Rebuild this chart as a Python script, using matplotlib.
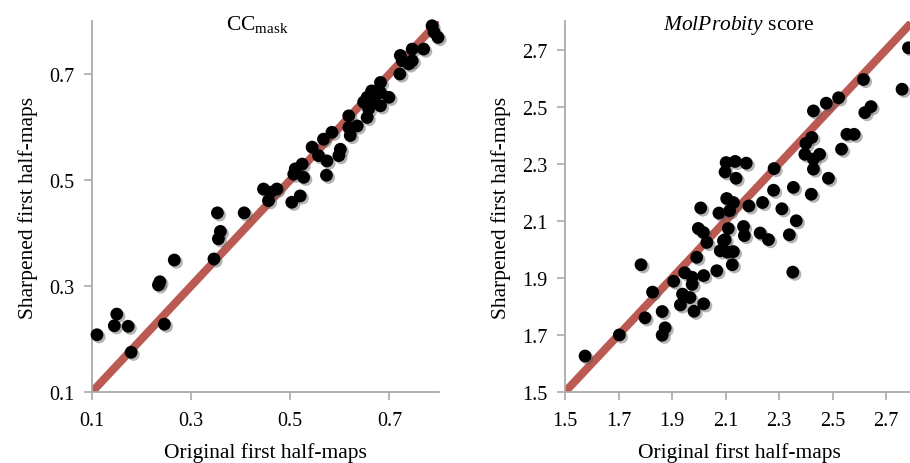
import matplotlib
matplotlib.use("Agg")
import matplotlib.pyplot as plt
import matplotlib.patheffects as pe
import numpy as np

# ---------------- data ----------------
cc_orig = [0.110, 0.150, 0.145, 0.173, 0.179, 0.246, 0.234, 0.237, 0.266, 0.346,
           0.355, 0.359, 0.353, 0.407, 0.446, 0.460, 0.473, 0.456, 0.503, 0.520,
           0.507, 0.510, 0.524, 0.527, 0.544, 0.557, 0.573, 0.574, 0.567, 0.584,
           0.598, 0.601, 0.618, 0.621, 0.635, 0.618, 0.655, 0.658, 0.682, 0.648,
           0.668, 0.699, 0.682, 0.655, 0.664, 0.682, 0.721, 0.739, 0.746, 0.726,
           0.722, 0.746, 0.769, 0.798, 0.790, 0.786]
cc_sharp = [0.208, 0.247, 0.225, 0.224, 0.175, 0.228, 0.302, 0.308, 0.349, 0.351,
            0.389, 0.403, 0.438, 0.438, 0.483, 0.477, 0.483, 0.461, 0.458, 0.470,
            0.511, 0.521, 0.530, 0.505, 0.562, 0.546, 0.509, 0.536, 0.577, 0.590,
            0.546, 0.558, 0.599, 0.584, 0.602, 0.621, 0.618, 0.634, 0.640, 0.647,
            0.650, 0.656, 0.665, 0.656, 0.668, 0.684, 0.700, 0.719, 0.725, 0.725,
            0.735, 0.747, 0.747, 0.769, 0.779, 0.791]

mp_orig = [1.575, 1.703, 1.799, 1.863, 1.874, 1.863, 1.784, 1.827, 1.906, 1.931,
           1.939, 1.967, 1.982, 2.018, 1.947, 1.975, 1.975, 2.018, 2.067, 1.992,
           2.030, 1.998, 2.017, 2.080, 2.092, 2.007, 2.075, 2.104, 2.129, 2.115,
           2.110, 2.098, 2.107, 2.129, 2.125, 2.187, 2.167, 2.170, 2.238, 2.229,
           2.260, 2.279, 2.310, 2.338, 2.364, 2.351, 2.353, 2.420, 2.281, 2.102,
           2.136, 2.177, 2.098, 2.139, 2.783, 2.759, 2.615, 2.643, 2.620, 2.522,
           2.476, 2.428, 2.553, 2.580, 2.533, 2.422, 2.400, 2.396, 2.428, 2.451,
           2.428, 2.484]
mp_sharp = [1.626, 1.700, 1.760, 1.782, 1.725, 1.699, 1.946, 1.850, 1.888, 1.805,
            1.843, 1.831, 1.783, 1.809, 1.918, 1.902, 1.877, 1.908, 1.925, 1.972,
            2.024, 2.073, 2.059, 1.995, 2.030, 2.145, 2.127, 2.178, 2.164, 2.135,
            2.073, 2.034, 1.990, 1.992, 1.946, 2.152, 2.080, 2.048, 2.164, 2.057,
            2.034, 2.207, 2.142, 2.051, 2.100, 1.920, 2.217, 2.193, 2.283, 2.304,
            2.308, 2.302, 2.271, 2.249, 2.706, 2.561, 2.595, 2.500, 2.479, 2.531,
            2.512, 2.485, 2.403, 2.403, 2.351, 2.392, 2.371, 2.333, 2.316, 2.333,
            2.281, 2.249]

cc_ticks = [0.1, 0.3, 0.5, 0.7]
cc_lim = [0.1, 0.8]
mp_ticks = [1.5, 1.7, 1.9, 2.1, 2.3, 2.5, 2.7]
mp_lim = [1.5, 2.8]

xlabel = "Original first half-maps"
ylabel = "Sharpened first half-maps"

# ---------------- style ----------------
plt.rcParams['font.family'] = ['Liberation Serif', 'DejaVu Serif']
plt.rcParams['mathtext.fontset'] = 'custom'
plt.rcParams['mathtext.rm'] = 'Liberation Serif'
plt.rcParams['mathtext.it'] = 'Liberation Serif:italic'

W, H = 910, 464
fig = plt.figure(figsize=(W / 100, H / 100), dpi=100)

spine_col = '#aaaaaa'
line_col = '#bb5a52'


def setup(ax, lim, ticks):
    ax.set_xlim(lim)
    ax.set_ylim(lim)
    ax.set_xticks(ticks)
    ax.set_yticks(ticks)
    ax.set_xticklabels([f"{t:.1f}" for t in ticks])
    ax.set_yticklabels([f"{t:.1f}" for t in ticks])
    for s in ['top', 'right']:
        ax.spines[s].set_visible(False)
    for s in ['left', 'bottom']:
        ax.spines[s].set_color(spine_col)
        ax.spines[s].set_linewidth(1.3)
    ax.tick_params(axis='both', direction='out', length=5.5, width=1.2,
                   color=spine_col, labelsize=14.5, labelcolor='black')
    ax.tick_params(axis='x', pad=8)
    ax.tick_params(axis='y', pad=7)
    ax.plot(lim, lim, color=line_col, lw=5.8, solid_capstyle='butt',
            zorder=2, clip_on=True)
    ax.set_xlabel(xlabel, fontsize=15.5, labelpad=9)
    ax.set_ylabel(ylabel, fontsize=15.5, labelpad=8)


def dots(ax, x, y):
    ax.scatter(x, y, s=85, color='black', edgecolors='none', zorder=3,
               clip_on=False,
               path_effects=[pe.SimplePatchShadow(offset=(1.6, -1.6),
                                                  shadow_rgbFace='0.35',
                                                  alpha=0.45),
                             pe.Normal()])


bot = (H - 393) / H
ht = (393 - 22) / H
ax1 = fig.add_axes([92 / W, bot, (439 - 92) / W, ht])
ax2 = fig.add_axes([565 / W, bot, (913 - 565) / W, ht])

setup(ax1, cc_lim, cc_ticks)
dots(ax1, cc_orig, cc_sharp)
setup(ax2, mp_lim, mp_ticks)
dots(ax2, mp_orig, mp_sharp)

fig.text(257 / W, 1 - 30 / H, r"CC$_{\mathrm{mask}}$", ha='center',
         va='baseline', fontsize=15.5)
fig.text(739 / W, 1 - 30 / H, r"$\mathit{MolProbity}$ score", ha='center',
         va='baseline', fontsize=15.5)

fig.savefig("out.png", dpi=100)
